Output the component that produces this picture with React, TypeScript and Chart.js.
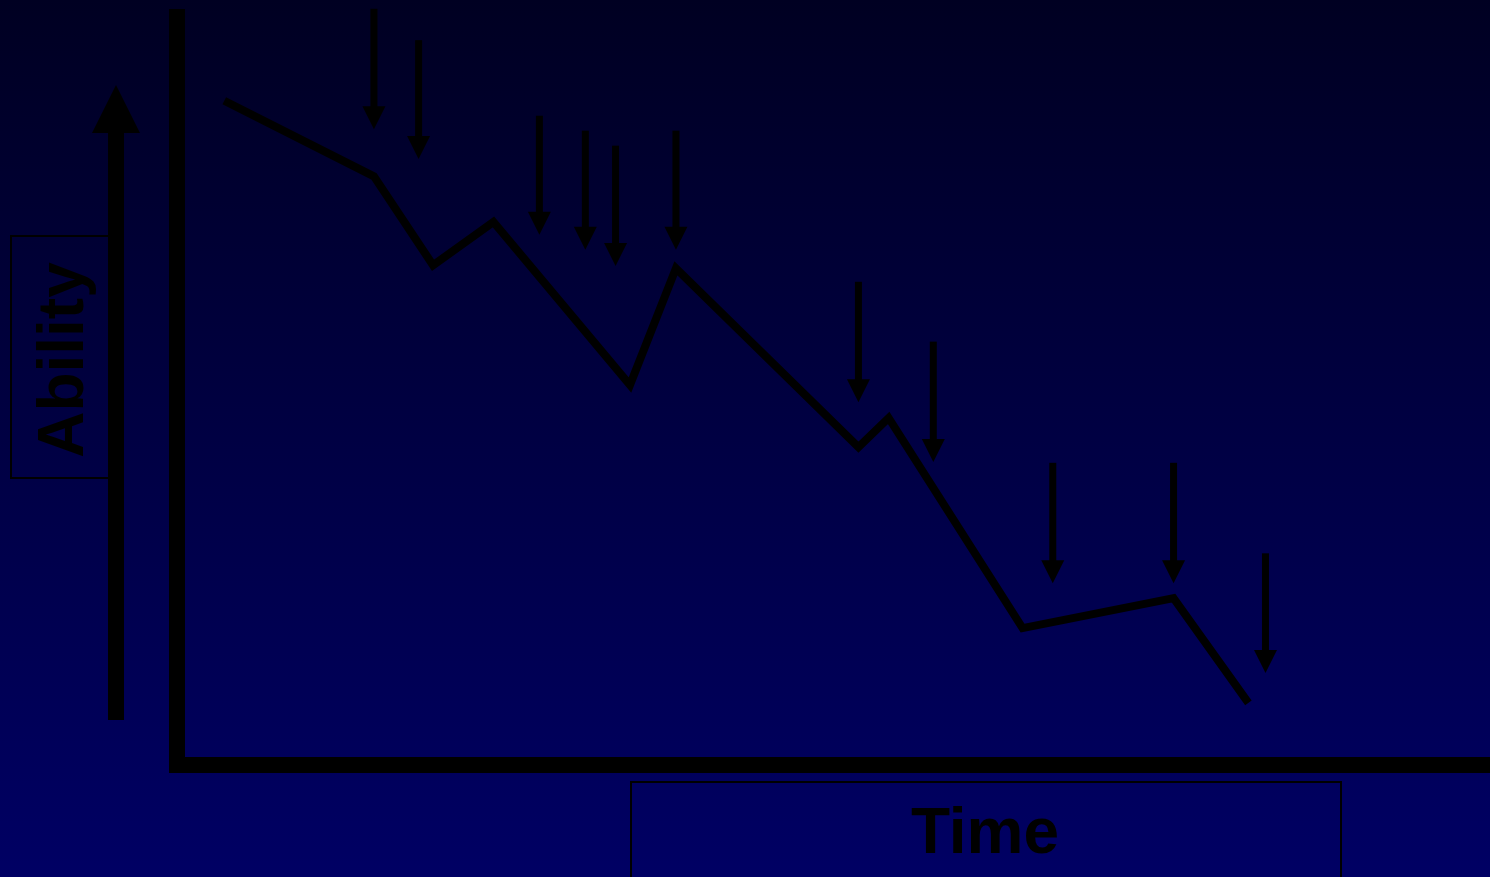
import React, { useEffect, useRef } from 'react';
import { Chart, registerables } from 'chart.js';

Chart.register(...registerables);

// Line: ability over time
const timeValues = [3.6, 15.0, 19.5, 24.1, 34.5, 38.0, 51.9, 54.2, 64.4, 75.9, 81.6];
const abilityValues = [88.8, 78.7, 66.8, 72.6, 50.8, 66.4, 42.5, 46.4, 18.3, 22.3, 8.3];

// Downward event arrows (time, start level, end level)
const eventTimes = [15.0, 18.4, 27.6, 31.1, 33.4, 38.0, 51.9, 57.6, 66.7, 75.9, 82.9];
const eventStarts = [101.1, 96.9, 86.8, 84.8, 82.8, 84.8, 64.6, 56.6, 40.4, 40.4, 28.3];
const eventEnds = [85.0, 81.0, 70.9, 68.9, 66.7, 68.9, 48.5, 40.5, 24.3, 24.3, 12.3];

const yAxisLabel = 'Ability';
const xAxisLabel = 'Time';

const FONT = 'bold 64px "Liberation Sans", Arial, Helvetica, sans-serif';

const decorations = {
  id: 'decorations',
  beforeDraw(chart: any) {
    const { ctx, width, height } = chart;
    const g = ctx.createLinearGradient(0, 0, 0, height);
    g.addColorStop(0, '#000022');
    g.addColorStop(1, '#000064');
    ctx.save();
    ctx.fillStyle = g;
    ctx.fillRect(0, 0, width, height);
    ctx.restore();
  },
  afterDraw(chart: any) {
    const { ctx } = chart;
    const xs = chart.scales.x;
    const ys = chart.scales.y;
    ctx.save();
    ctx.fillStyle = '#000';
    ctx.strokeStyle = '#000';

    // event arrows
    eventTimes.forEach((t, i) => {
      const x = xs.getPixelForValue(t);
      const y0 = ys.getPixelForValue(eventStarts[i]);
      const y1 = ys.getPixelForValue(eventEnds[i]);
      ctx.fillRect(x - 3.5, y0, 7, y1 - y0 - 20);
      ctx.beginPath();
      ctx.moveTo(x - 11.5, y1 - 23);
      ctx.lineTo(x + 11.5, y1 - 23);
      ctx.lineTo(x, y1);
      ctx.closePath();
      ctx.fill();
    });

    // Ability label box
    ctx.lineWidth = 2;
    ctx.strokeRect(11, 236, 105, 242);

    // up arrow
    ctx.fillRect(108, 130, 16, 590);
    ctx.beginPath();
    ctx.moveTo(92, 133);
    ctx.lineTo(140, 133);
    ctx.lineTo(116, 85);
    ctx.closePath();
    ctx.fill();

    // Ability text
    ctx.save();
    ctx.translate(83, 360);
    ctx.rotate(-Math.PI / 2);
    ctx.font = FONT;
    ctx.textAlign = 'center';
    ctx.textBaseline = 'alphabetic';
    ctx.fillText(yAxisLabel, 0, 0);
    ctx.restore();

    // Time label box
    ctx.lineWidth = 2;
    ctx.strokeRect(631, 782, 710, 200);
    ctx.font = FONT;
    ctx.textAlign = 'center';
    ctx.textBaseline = 'alphabetic';
    ctx.fillText(xAxisLabel, 985, 853);

    ctx.restore();
  },
};

export default function App() {
  const canvasRef = useRef<HTMLCanvasElement | null>(null);

  useEffect(() => {
    const canvas = canvasRef.current;
    if (!canvas) return;
    const chart = new Chart(canvas, {
      type: 'line',
      data: {
        datasets: [
          {
            data: timeValues.map((t, i) => ({ x: t, y: abilityValues[i] })),
            borderColor: '#000',
            borderWidth: 8,
            borderJoinStyle: 'miter',
            borderCapStyle: 'butt',
            pointRadius: 0,
            pointHoverRadius: 0,
            tension: 0,
            fill: false,
          },
        ],
      },
      options: {
        responsive: false,
        animation: false,
        devicePixelRatio: 1,
        events: [],
        layout: { padding: { left: 177, top: 17, right: 0, bottom: 112 } },
        plugins: {
          legend: { display: false },
          tooltip: { enabled: false },
          title: { display: false },
        },
        scales: {
          x: {
            type: 'linear',
            position: 'bottom',
            min: 0,
            max: 100,
            grid: { display: false, drawTicks: false },
            ticks: { display: false },
            border: { display: true, color: '#000', width: 16 },
          },
          y: {
            type: 'linear',
            position: 'left',
            min: 0,
            max: 100,
            grid: { display: false, drawTicks: false },
            ticks: { display: false },
            border: { display: true, color: '#000', width: 16 },
          },
        },
      },
      plugins: [decorations],
    } as any);
    return () => chart.destroy();
  }, []);

  return (
    <div style={{ position: 'fixed', left: 0, top: 0, width: 1490, height: 877 }}>
      <canvas ref={canvasRef} width={1490} height={877} style={{ display: 'block' }} />
    </div>
  );
}
